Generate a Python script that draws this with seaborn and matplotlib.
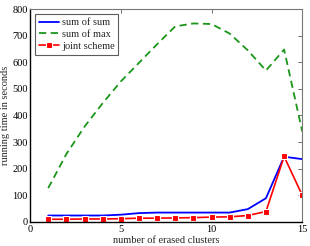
import matplotlib
matplotlib.use("Agg")
import matplotlib.pyplot as plt
import seaborn as sns
import pandas as pd

sns.set_style("white")
plt.rcParams['font.family'] = ['Liberation Serif', 'DejaVu Serif']

clusters = [1, 2, 3, 4, 5, 6, 7, 8, 9, 10, 11, 12, 13, 14, 15]
sum_of_sum = [24, 24, 24, 24, 27, 33, 35, 35, 35, 35, 35, 48, 89, 245, 236]
sum_of_max = [127, 255, 358, 446, 528, 598, 668, 735, 746, 744, 708, 645, 569, 648, 340]
joint_scheme = [10, 10, 11, 11, 12, 14, 14, 15, 16, 18, 19, 24, 39, 246, 100]

xticks = [0, 5, 10, 15]
yticks = [0, 100, 200, 300, 400, 500, 600, 700, 800]

fig = plt.figure(figsize=(3.10, 2.46), dpi=100)
ax = fig.add_axes([0.097, 0.098, 0.878, 0.865])

df = pd.DataFrame({"x": clusters, "sum of sum": sum_of_sum,
                   "sum of max": sum_of_max, "joint scheme": joint_scheme})

sns.lineplot(data=df, x="x", y="sum of sum", ax=ax, color="#0000ff",
             lw=1.3, label="sum of sum")
sns.lineplot(data=df, x="x", y="sum of max", ax=ax, color="#1a961a",
             lw=1.3, dashes=False, label="sum of max", linestyle=(0, (4, 2.5)))
sns.lineplot(data=df, x="x", y="joint scheme", ax=ax, color="#ff0000",
             lw=1.2, marker="s", markersize=3.8, markeredgewidth=0.8,
             label="joint scheme")

ax.set_xlim(0, 15)
ax.set_ylim(0, 800)
ax.set_xticks(xticks)
ax.set_yticks(yticks)
ax.set_xticklabels([str(t) for t in xticks])
ax.set_yticklabels([str(t) for t in yticks])
ax.tick_params(direction="in", length=3, width=0.6, labelsize=7.5,
               top=True, right=True, colors="#555555", labelcolor="black", pad=1.5)
ax.tick_params(axis="x", pad=2.5)
ax.set_xlabel("number of erased clusters", fontsize=7.5, labelpad=1.5)
ax.set_ylabel("running time in seconds", fontsize=7.5, labelpad=2)

for side in ["left", "bottom"]:
    ax.spines[side].set_color("black")
    ax.spines[side].set_linewidth(1.0)
for side in ["top", "right"]:
    ax.spines[side].set_color("#777777")
    ax.spines[side].set_linewidth(0.8)

leg = ax.legend(loc="upper left", fontsize=7.5, frameon=True, fancybox=False,
                handlelength=1.9, handletextpad=0.3, borderpad=0.35,
                labelspacing=0.25, borderaxespad=0.5)
leg.get_frame().set_edgecolor("#333333")
leg.get_frame().set_linewidth(0.8)

fig.savefig("out.png", dpi=100)
